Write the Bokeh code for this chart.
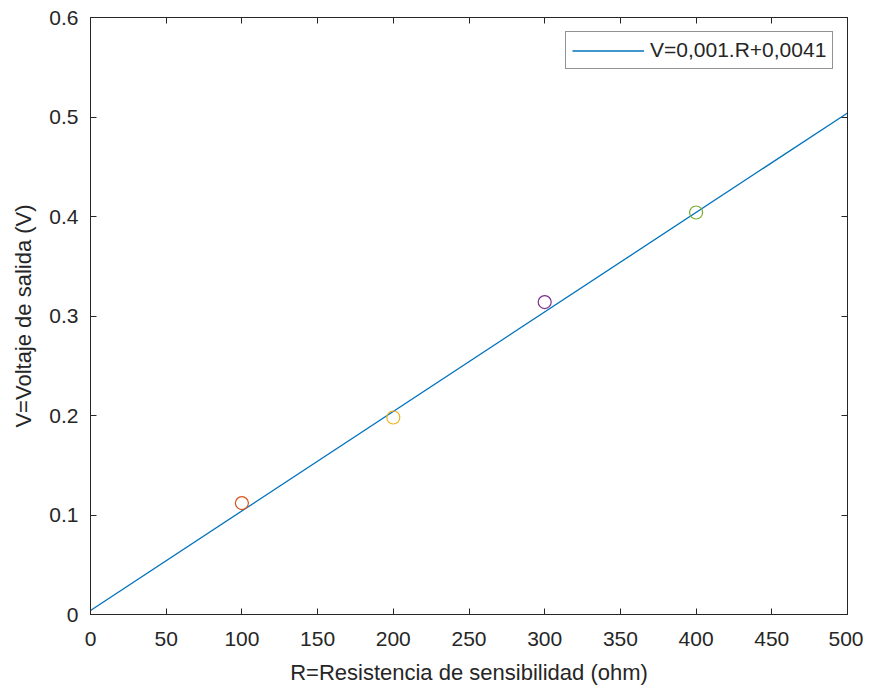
from bokeh.plotting import figure
from bokeh.models import LinearAxis, Range1d, Legend, LegendItem, FixedTicker
from bokeh.embed import file_html
from bokeh.resources import INLINE

# --- data ---
r_points = [100, 200, 300, 400]
v_points = [0.112, 0.198, 0.314, 0.404]
point_colors = ["#D95319", "#EDB120", "#7E2F8E", "#77AC30"]

fit_slope = 0.001
fit_intercept = 0.0041
r_fit = [0, 500]
v_fit = [fit_slope * r + fit_intercept for r in r_fit]
fit_label = "V=0,001.R+0,0041"

x_ticks = [0, 50, 100, 150, 200, 250, 300, 350, 400, 450, 500]
y_ticks = [0, 0.1, 0.2, 0.3, 0.4, 0.5, 0.6]

x_label = "R=Resistencia de sensibilidad (ohm)"
y_label = "V=Voltaje de salida (V)"

FONT = "Liberation Sans"
TXT = "#262626"
AX = "#262626"

p = figure(width=863, height=681, output_backend="svg", toolbar_location=None,
           x_range=Range1d(0, 500), y_range=Range1d(0, 0.6),
           frame_width=757, frame_height=597,
           min_border_left=90, min_border_right=16, min_border_top=17, min_border_bottom=67)
p.xgrid.visible = False
p.ygrid.visible = False
p.outline_line_color = AX
p.outline_line_width = 1
p.background_fill_color = "white"
p.border_fill_color = "white"

def style_axis(ax, ticks, show_labels=True):
    ax.ticker = FixedTicker(ticks=ticks)
    ax.major_tick_in = 6
    ax.major_tick_out = 0
    ax.minor_tick_line_color = None
    ax.axis_line_color = AX
    ax.major_tick_line_color = AX
    ax.major_label_text_font = FONT
    ax.major_label_text_font_size = "21px"
    ax.major_label_text_color = TXT
    ax.axis_label_text_font = FONT
    ax.axis_label_text_font_size = "22px"
    ax.axis_label_text_font_style = "normal"
    ax.axis_label_text_color = TXT
    if not show_labels:
        ax.major_label_text_color = None
        ax.major_label_standoff = 0

style_axis(p.xaxis[0], x_ticks)
style_axis(p.yaxis[0], y_ticks)
p.xaxis[0].major_label_standoff = 17
p.yaxis[0].major_label_standoff = 12
p.xaxis[0].axis_label = x_label
p.yaxis[0].axis_label = y_label
p.xaxis[0].axis_label_standoff = 11
p.yaxis[0].axis_label_standoff = 10
p.yaxis[0].major_label_overrides = {0: "0"}

top = LinearAxis()
style_axis(top, x_ticks, show_labels=False)
right = LinearAxis()
style_axis(right, y_ticks, show_labels=False)
p.add_layout(top, "above")
p.add_layout(right, "right")

line = p.line(r_fit, v_fit, line_color="#0072BD", line_width=1.3)

p.scatter(r_points, v_points, marker="circle", size=13, fill_color=None,
          line_color=point_colors, line_width=1.2)

legend = Legend(items=[LegendItem(label=fit_label, renderers=[line])],
                location=(475, 545))
legend.label_text_font = FONT
legend.label_text_font_size = "21px"
legend.label_text_color = TXT
legend.border_line_color = AX
legend.border_line_width = 1
legend.padding = 6
legend.margin = 0
legend.spacing = 0
legend.glyph_width = 72
legend.glyph_height = 21
legend.label_standoff = 6
legend.label_height = 21
legend.background_fill_alpha = 1
p.add_layout(legend, "center")

open("out.html", "w").write(file_html(p, INLINE))
